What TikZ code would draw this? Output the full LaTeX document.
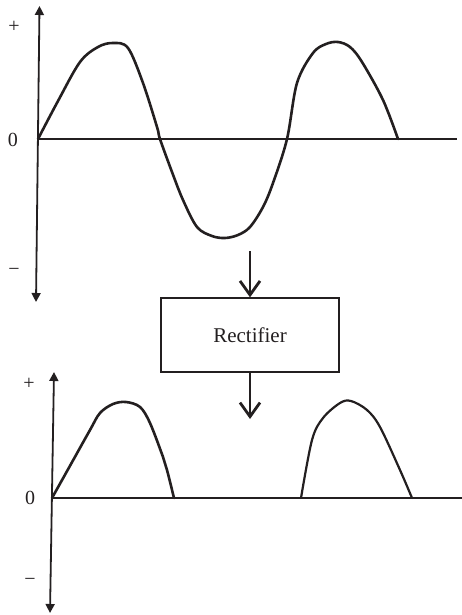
\documentclass[tikz,border=0pt]{standalone}
\usepackage{fontspec}
\setmainfont{Liberation Serif}
\usetikzlibrary{arrows.meta}
\definecolor{ink}{HTML}{231F20}
\tikzset{
  axis/.style={draw=ink, line width=1.8pt, {Triangle[length=9pt,width=9pt]}-{Triangle[length=9pt,width=9pt]}},
  zeroline/.style={draw=ink, line width=1.6pt},
  wave/.style={draw=ink, line width=2.6pt, line join=round, line cap=round},
  flow/.style={draw=ink, line width=2.4pt, -{Straight Barb[length=14pt,width=20pt,line width=2.8pt]}},
  lbl/.style={text=ink, font=\fontsize{20}{22}\selectfont, inner sep=0pt},
  boxnode/.style={draw=ink, line width=1.3pt, minimum width=178pt, minimum height=74pt, inner sep=0pt, text=ink, font=\fontsize{21}{24}\selectfont},
}
\begin{document}
\begin{tikzpicture}[x=1pt,y=-1pt]
\useasboundingbox (0,0) rectangle (462,615);
% top graph
\coordinate (ta) at (36,302);
\coordinate (tb) at (39.5,6);
\coordinate (tz0) at (38,139);
\coordinate (tz1) at (457,139);
\draw[axis] (ta) -- (tb);
\draw[zeroline] (tz0) -- (tz1);
\node[lbl] (tplus) at (14,27) {+};
\node[lbl] (tzero) at (13,140) {0};
\node[lbl] (tminus) at (14,272) {−};
\draw[wave] plot[smooth, tension=0.55] coordinates {
 (38,139) (58,101) (80,62) (98,47) (113,43) (128,48) (143,83) (157,127) (160,139)
 (172,172) (183,200) (197,227) (212,236) (225,238) (238,235) (250,227) (263,207) (273,183)
 (287,139) (297,83) (313,53) (326,44) (338,42) (350,47) (362,62) (383,100) (398,139)};
% rectifier
\node[boxnode] (rect) at (250,335) {Rectifier};
\coordinate (in) at (250,251);
\coordinate (out) at (250,419);
\draw[flow] (in) -- (rect.north);
\draw[flow] (rect.south) -- (out);
% bottom graph
\coordinate (ba) at (50,613);
\coordinate (bb) at (54,372);
\coordinate (bz0) at (52,498);
\coordinate (bz1) at (462,498);
\draw[axis] (ba) -- (bb);
\draw[zeroline, line width=2pt] (bz0) -- (bz1);
\node[lbl] (bplus) at (29,384) {+};
\node[lbl] (bzero) at (30,498) {0};
\node[lbl] (bminus) at (30,582) {−};
\draw[wave] plot[smooth, tension=0.55] coordinates {
 (52,498) (71,464) (90,430) (100,413) (113,404) (126,402) (140,407) (150,423) (163,457) (167,470) (174,498)};
\draw[wave, line width=2.2pt] plot[smooth, tension=0.55] coordinates {
 (301,498) (312,440) (323,418) (340,403) (351,401) (367,410) (380,427) (400,470) (412,498)};
\end{tikzpicture}
\end{document}
